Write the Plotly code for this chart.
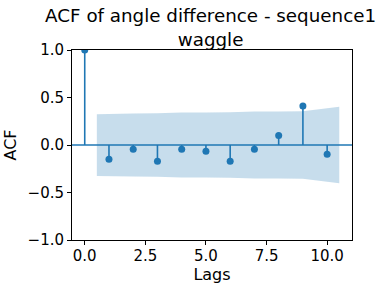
import plotly.graph_objects as go

lags = [0, 1, 2, 3, 4, 5, 6, 7, 8, 9, 10]
acf_values = [1.0, -0.15, -0.045, -0.17, -0.045, -0.066, -0.17, -0.045, 0.10, 0.41, -0.098]
conf_lags = [0.5, 2, 3, 4, 5, 6, 7, 8, 9, 10.5]
conf_half = [0.325, 0.332, 0.333, 0.342, 0.343, 0.344, 0.353, 0.353, 0.356, 0.403]
x_ticks = [0, 2.5, 5, 7.5, 10]
y_ticks = [-1.0, -0.5, 0.0, 0.5, 1.0]

C0 = "#1f77b4"
fig = go.Figure()

# confidence band
bx = conf_lags + conf_lags[::-1]
by = conf_half + [-v for v in conf_half[::-1]]
fig.add_trace(go.Scatter(x=bx, y=by, fill="toself", mode="none",
                         fillcolor="rgba(31,119,180,0.25)", hoverinfo="skip",
                         showlegend=False))

# stems
sx, sy = [], []
for l, v in zip(lags, acf_values):
    sx += [l, l, None]
    sy += [0, v, None]
fig.add_trace(go.Scatter(x=sx, y=sy, mode="lines", line=dict(color=C0, width=1.6),
                         showlegend=False, hoverinfo="skip"))
fig.add_trace(go.Scatter(x=lags, y=acf_values, mode="markers",
                         marker=dict(color=C0, size=7), showlegend=False))

fig.add_shape(type="line", xref="paper", yref="y", x0=0, x1=1, y0=0, y1=0,
              line=dict(color=C0, width=1.6))

fig.update_layout(
    template="none",
    width=390, height=288,
    margin=dict(l=72, r=38, t=50, b=48, autoexpand=False),
    plot_bgcolor="white", paper_bgcolor="white",
    font=dict(family="DejaVu Sans", size=15, color="black"),
    title=dict(text="ACF of angle difference - sequence1<br>waggle",
               x=0.54, xanchor="center", y=0.922, yanchor="middle",
               font=dict(family="DejaVu Sans", size=18.3, color="black")),
    xaxis=dict(range=[-0.525, 11.025], tickvals=x_ticks,
               ticktext=[f"{t:.1f}" for t in x_ticks], automargin=False,
               showgrid=False, zeroline=False, showline=True, linecolor="black",
               linewidth=1, mirror=True, ticks="outside", ticklen=4,
               tickcolor="black", ticklabelstandoff=-2,
               title=dict(text="Lags", standoff=2, font=dict(size=16))),
    yaxis=dict(range=[-1.0, 1.0], tickvals=y_ticks,
               ticktext=[("\u2212" if t < 0 else "") + f"{abs(t):.1f}" for t in y_ticks],
               automargin=False,
               showgrid=False, zeroline=False, showline=True, linecolor="black",
               linewidth=1, mirror=True, ticks="outside", ticklen=4,
               tickcolor="black",
               title=dict(text="ACF", standoff=6, font=dict(size=16))),
)

fig.write_html("out.html", config={"displayModeBar": False},
               post_script="document.body.style.margin='0';document.body.style.overflow='hidden';")
